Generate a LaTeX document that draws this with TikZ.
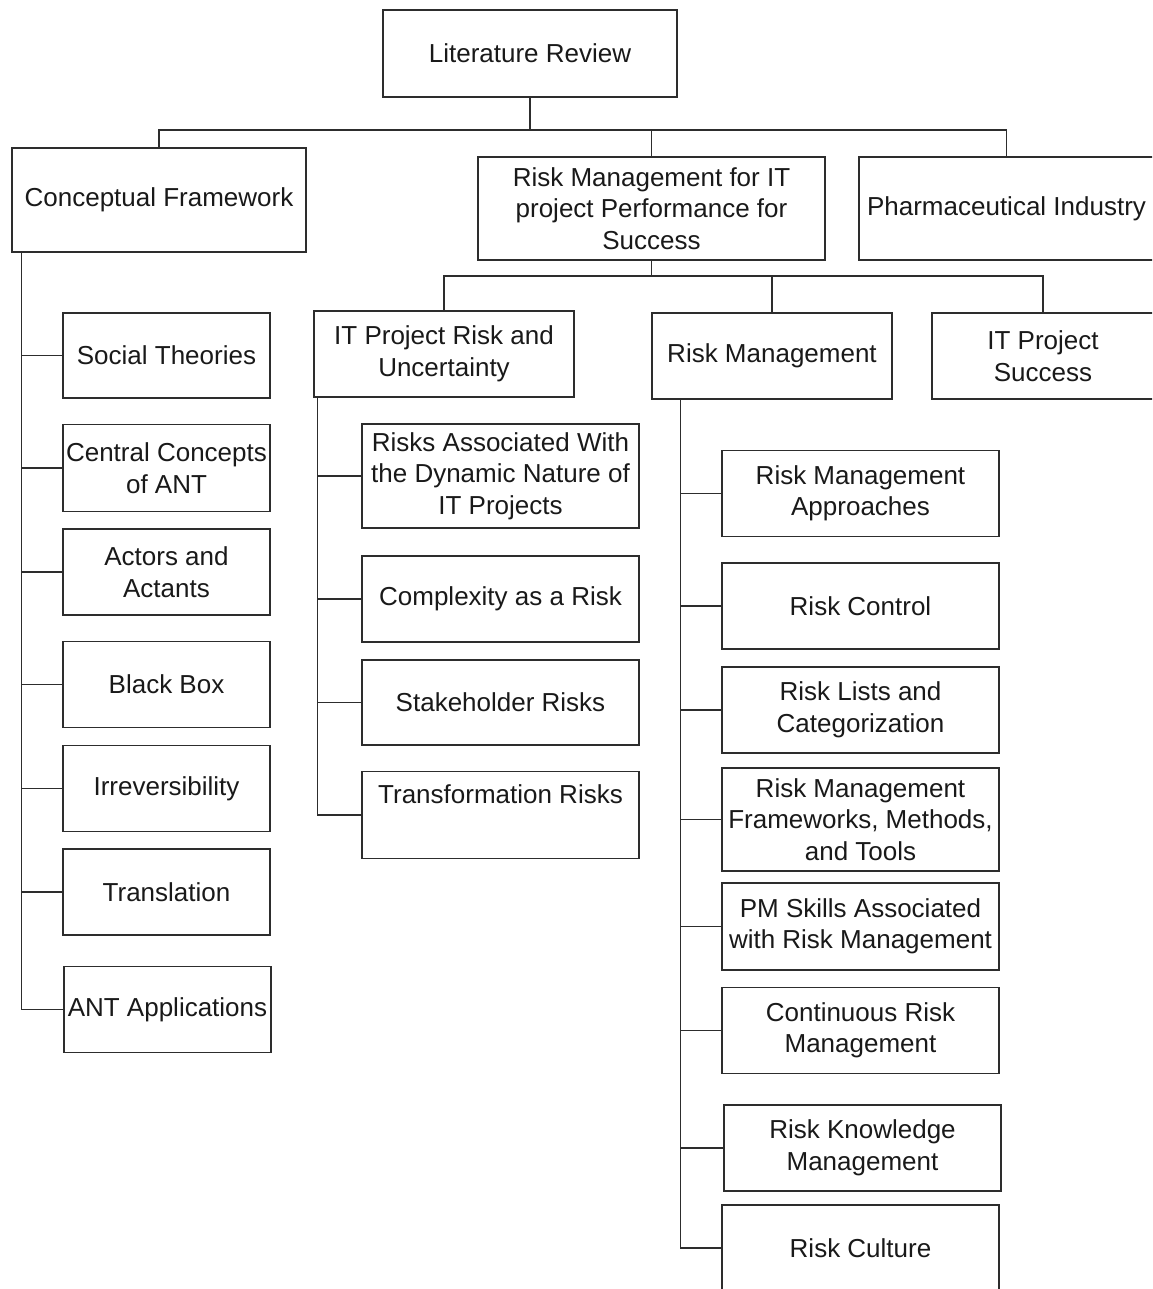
\documentclass[tikz,border=0pt]{standalone}
\usepackage{fontspec}
\setmainfont{Liberation Sans}
\usetikzlibrary{calc}

\definecolor{linegray}{RGB}{45,45,45}
\definecolor{textgray}{RGB}{25,25,25}

\begin{document}
\begin{tikzpicture}[x=1pt,y=-1pt,
    box/.style={draw=linegray, line width=1.4pt, align=center, inner sep=0pt,
        text=textgray, font=\fontsize{26}{31.5}\selectfont},
    link/.style={draw=linegray, line width=1.4pt}]
        %set diagram frame: 1152 wide, 1289 high
        \path[use as bounding box, clip] (0,0) rectangle (1152,1289);

        %Shape: Rectangle [top]
        \node[box, minimum width=294, minimum height=87] (lr) at (530,53.5) {Literature Review};
        %Shape: Rectangle [first level]
        \node[box, minimum width=294, minimum height=104] (cf) at (159,200) {Conceptual Framework};
        \node[box, minimum width=347, minimum height=103] (rmit) at (651.5,208.5) {Risk Management for IT\\project Performance for\\Success};
        \node[box, minimum width=295, minimum height=103] (pharma) at (1006.5,208.5) {Pharmaceutical Industry};
        %Shape: Rectangle [second level]
        \node[box, minimum width=260, minimum height=86] (itrisk) at (444,354) {IT Project Risk and\\Uncertainty};
        \node[box, minimum width=240, minimum height=86] (rm) at (772,356) {Risk Management};
        \node[box, minimum width=222, minimum height=86] (itsucc) at (1043,356) {IT Project\\Success};

        %Shape: Rectangle [left column]
        \node[box, minimum width=207, minimum height=85] (social) at (166.5,355.5) {Social Theories};
        \node[box, minimum width=207, minimum height=87] (central) at (166.5,468) {Central Concepts\\of ANT};
        \node[box, minimum width=207, minimum height=86] (actors) at (166.5,572) {Actors and\\Actants};
        \node[box, minimum width=207, minimum height=86] (blackbox) at (166.5,684.5) {Black Box};
        \node[box, minimum width=207, minimum height=86] (irrev) at (166.5,788.5) {Irreversibility};
        \node[box, minimum width=207, minimum height=86] (transl) at (166.5,892) {Translation};
        \node[box, minimum width=207, minimum height=86] (apps) at (167.5,1009.5) {ANT Applications};

        %Shape: Rectangle [middle column]
        \node[box, minimum width=277, minimum height=104] (dynamic) at (500.5,476) {Risks Associated With\\the Dynamic Nature of\\IT Projects};
        \node[box, minimum width=277, minimum height=86] (complex) at (500.5,599) {Complexity as a Risk};
        \node[box, minimum width=277, minimum height=85] (stake) at (500.5,702.5) {Stakeholder Risks};
        \node[box, minimum width=277, minimum height=87] (transf) at (500.5,815) {Transformation Risks\\\strut};

        %Shape: Rectangle [right column]
        \node[box, minimum width=277, minimum height=86] (approaches) at (860.5,493.5) {Risk Management\\Approaches};
        \node[box, minimum width=277, minimum height=86] (control) at (860.5,606) {Risk Control};
        \node[box, minimum width=277, minimum height=86] (lists) at (860.5,710) {Risk Lists and\\Categorization};
        \node[box, minimum width=277, minimum height=103] (frameworks) at (860.5,819.5) {Risk Management\\Frameworks, Methods,\\and Tools};
        \node[box, minimum width=277, minimum height=87] (skills) at (860.5,926.5) {PM Skills Associated\\with Risk Management};
        \node[box, minimum width=277, minimum height=86] (continuous) at (860.5,1030.5) {Continuous Risk\\Management};
        \node[box, minimum width=277, minimum height=86] (knowledge) at (862.5,1148) {Risk Knowledge\\Management};
        \node[box, minimum width=277, minimum height=86] (culture) at (860.5,1248) {Risk Culture};

        %Straight Lines [top bus]
        \coordinate (bus1) at (530,130);
        \draw[link] (lr.south) -- (lr.south |- bus1);
        \draw[link] (cf.north) |- (bus1) -| (pharma.north);
        \draw[link] (rmit.north) -- (rmit.north |- bus1);

        %Straight Lines [second bus]
        \coordinate (bus2) at (652,276);
        \draw[link] (rmit.south) -- (rmit.south |- bus2);
        \draw[link] (itrisk.north) |- (bus2) -| (itsucc.north);
        \draw[link] (rm.north) -- (rm.north |- bus2);

        %Straight Lines [left trunk]
        \coordinate (cftrunk) at ([xshift=10]cf.south west);
        \draw[link] (cftrunk) |- (apps.west);
        \foreach \n in {social,central,actors,blackbox,irrev,transl}
            \draw[link] (cftrunk |- \n.west) -- (\n.west);

        %Straight Lines [middle trunk]
        \coordinate (ittrunk) at ([xshift=4]itrisk.south west);
        \draw[link] (ittrunk) |- (transf.west);
        \foreach \n in {dynamic,complex,stake}
            \draw[link] (ittrunk |- \n.west) -- (\n.west);

        %Straight Lines [right trunk]
        \coordinate (rmtrunk) at ([xshift=29]rm.south west);
        \draw[link] (rmtrunk) |- (culture.west);
        \foreach \n in {approaches,control,lists,frameworks,skills,continuous,knowledge}
            \draw[link] (rmtrunk |- \n.west) -- (\n.west);

    \end{tikzpicture}
\end{document}
